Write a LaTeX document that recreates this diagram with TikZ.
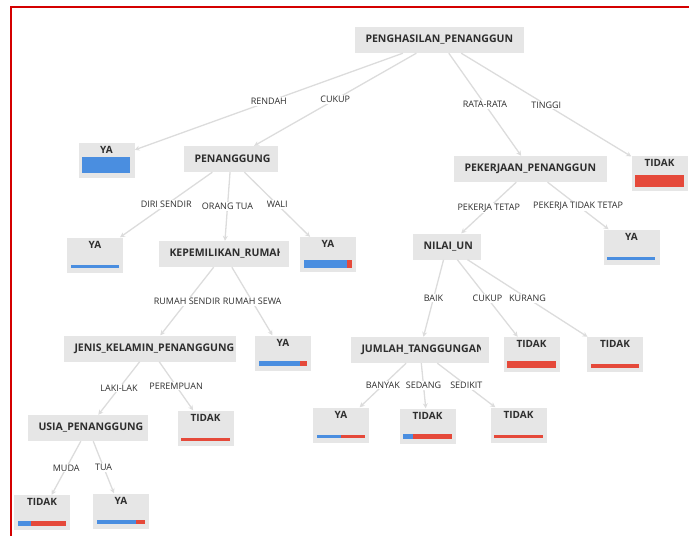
\documentclass[tikz,border=0pt]{standalone}
\usepackage{fontspec}
\setmainfont{Open Sans}
\usetikzlibrary{arrows.meta,calc}
\definecolor{boxgray}{HTML}{E6E6E6}
\definecolor{edgegray}{HTML}{DCDCDC}
\definecolor{barblue}{HTML}{4A8EE0}
\definecolor{barred}{HTML}{E5493A}
\definecolor{txt}{HTML}{2E2E2E}
\definecolor{framered}{HTML}{D40000}
\newcommand{\attrnode}[5]{%
  \node[attr,minimum width=#3] (#1) at (#2) {};
  \begin{scope}
    \clip ($(#1.south west)+(2,0)$) rectangle ($(#1.north east)+(-#5,0)$);
    \node[attrtext,anchor=west] (#1t) at ($(#1.west)+(10.5,0)$) {#4};
  \end{scope}}
\newcommand{\leafbar}[3]{%
  \ifdim#3pt>0pt
  \fill[barblue] ($(#1.south west)+(4,-4.5)$) rectangle ($(#1.south west)+(4+48*#3,-4.5-#2)$);
  \fi
  \ifdim#3pt<1pt
  \fill[barred] ($(#1.south west)+(4+48*#3,-4.5)$) rectangle ($(#1.south east)+(-4,-4.5-#2)$);
  \fi}
\begin{document}
\begin{tikzpicture}[x=1pt,y=-1pt,
  attr/.style={fill=boxgray,minimum height=26,inner sep=0},
  attrtext/.style={inner sep=0,text=txt,font=\fontsize{10.5}{12}\selectfont\bfseries},
  leaf/.style={fill=boxgray,minimum width=56,inner xsep=0,inner ysep=3.5,text height=7,text depth=21,text=txt,font=\fontsize{10}{11}\selectfont\bfseries},
  edge/.style={draw=edgegray,line width=1.3,-{Stealth[length=5pt,width=5pt]}},
  lbl/.style={fill=white,inner sep=1,text=txt,font=\fontsize{9}{10}\selectfont}]
\useasboundingbox (0,0) rectangle (689,536);
\draw[framered,line width=2] (11,536) -- (11,6.5) -- (689,6.5);

\attrnode{root}{439.5,40}{169}{PENGHASILAN\_PENANGGUN}{2}
\attrnode{pen}{231,159}{94}{PENANGGUNG}{2}
\attrnode{kerja}{530.5,169}{153}{PEKERJAAN\_PENANGGUN}{2}
\attrnode{rumah}{224,254}{130}{KEPEMILIKAN\_RUMAH}{10}
\attrnode{nilai}{447,246.5}{68}{NILAI\_UN}{2}
\attrnode{kelamin}{150,348.5}{172}{JENIS\_KELAMIN\_PENANGGUNG}{3}
\attrnode{tanggung}{420,350}{138}{JUMLAH\_TANGGUNGAN}{9}
\attrnode{usia}{88,428}{120}{USIA\_PENANGGUNG}{2}

\node[leaf] (yaA) at (106.5,160) {YA};
\node[leaf] (tidakA) at (659.5,173.5) {TIDAK};
\node[leaf] (yaB) at (95,255) {YA};
\node[leaf] (yaC) at (328,254.5) {YA};
\node[leaf] (yaD) at (631.5,247) {YA};
\node[leaf] (yaE) at (283,353) {YA};
\node[leaf] (tidakB) at (531.5,354.5) {TIDAK};
\node[leaf] (tidakC) at (615,354.5) {TIDAK};
\node[leaf] (tidakD) at (205.5,428) {TIDAK};
\node[leaf] (yaF) at (341,425) {YA};
\node[leaf] (tidakE) at (427.5,426) {TIDAK};
\node[leaf] (tidakF) at (518.5,425) {TIDAK};
\node[leaf] (tidakG) at (42,512.5) {TIDAK};
\node[leaf] (yaG) at (121,511) {YA};

\leafbar{yaA}{16}{1}
\leafbar{tidakA}{12}{0}
\leafbar{yaB}{3}{1}
\leafbar{yaC}{8}{0.9}
\leafbar{yaD}{3}{1}
\leafbar{yaE}{5}{0.86}
\leafbar{tidakB}{7}{0}
\leafbar{tidakC}{4}{0}
\leafbar{tidakD}{3}{0}
\leafbar{yaF}{3}{0.5}
\leafbar{tidakE}{5}{0.2}
\leafbar{tidakF}{3}{0}
\leafbar{tidakG}{5}{0.27}
\leafbar{yaG}{4.5}{0.81}

\draw[edge] (root) -- node[lbl] (lRendah) {RENDAH} (yaA);
\draw[edge] (root) -- node[lbl] (lCukupA) {CUKUP} (pen);
\draw[edge] (root) -- node[lbl] (lRata) {RATA-RATA} (kerja);
\draw[edge] (root) -- node[lbl] (lTinggi) {TINGGI} (tidakA);
\draw[edge] (pen) -- node[lbl] (lDiri) {DIRI SENDIR} (yaB);
\draw[edge] (pen) -- node[lbl] (lOrtu) {ORANG TUA} (rumah);
\draw[edge] (pen) -- node[lbl] (lWali) {WALI} (yaC);
\draw[edge] (kerja) -- node[lbl] (lTetap) {PEKERJA TETAP} (nilai);
\draw[edge] (kerja) -- node[lbl] (lTdkTetap) {PEKERJA TIDAK TETAP} (yaD);
\draw[edge] (rumah) -- node[lbl] (lSendiri) {RUMAH SENDIR} (kelamin);
\draw[edge] (rumah) -- node[lbl] (lSewa) {RUMAH SEWA} (yaE);
\draw[edge] (nilai) -- node[lbl] (lBaik) {BAIK} (tanggung);
\draw[edge] (nilai) -- node[lbl] (lCukupB) {CUKUP} (tidakB);
\draw[edge] (nilai) -- node[lbl] (lKurang) {KURANG} (tidakC);
\draw[edge] (kelamin) -- node[lbl] (lLaki) {LAKI-LAK} (usia);
\draw[edge] (kelamin) -- node[lbl] (lPerempuan) {PEREMPUAN} (tidakD);
\draw[edge] (tanggung) -- node[lbl] (lBanyak) {BANYAK} (yaF);
\draw[edge] (tanggung) -- node[lbl] (lSedang) {SEDANG} (tidakE);
\draw[edge] (tanggung) -- node[lbl] (lSedikit) {SEDIKIT} (tidakF);
\draw[edge] (usia) -- node[lbl] (lMuda) {MUDA} (tidakG);
\draw[edge] (usia) -- node[lbl] (lTua) {TUA} (yaG);
\end{tikzpicture}
\end{document}
